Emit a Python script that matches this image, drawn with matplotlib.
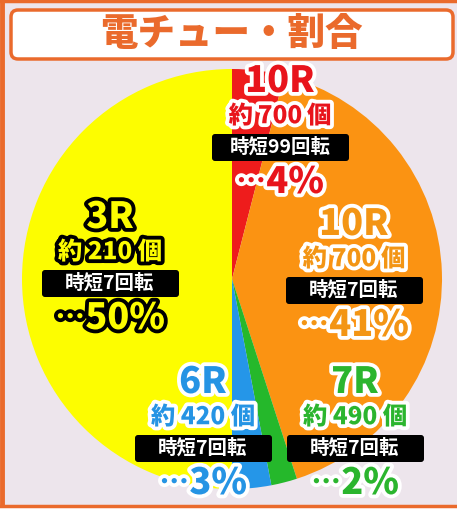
import matplotlib
matplotlib.use("Agg")
import matplotlib.pyplot as plt
import matplotlib.patheffects as pe
from matplotlib.patches import Rectangle, FancyBboxPatch

plt.rcParams['font.family'] = ['Noto Sans CJK JP', 'DejaVu Sans']

# data (clockwise from 12 o'clock)
rounds = ["10R", "10R", "7R", "6R", "3R"]
balls = ["約\u2009700\u2009個", "約\u2009700\u2009個", "約 490 個", "約 420 個", "約 210 個"]
jitan = ["時短99回転", "時短7回転", "時短7回転", "時短7回転", "時短7回転"]
shares = [4, 41, 2, 3, 50]
slice_colors = ["#ee1c1c", "#fb9312", "#25b82b", "#2596e8", "#fdfd00"]
text_colors = ["#e8141c", "#f39514", "#2bb52e", "#2594e4", "#fdfd00"]
stroke_colors = ["white", "white", "white", "white", "black"]
# centre of each label block (pixel coords, y from top)
label_pos = [(280, 81), (354, 224), (355, 382), (203, 382), (110, 217)]

W, H = 457, 512
ORANGE = "#ea6a2c"

fig = plt.figure(figsize=(W / 100, H / 100), dpi=100, facecolor="white")
ax = fig.add_axes([0, 0, 1, 1])


def Y(y):
    return H - y


# background + frame
ax.add_patch(Rectangle((0, Y(506)), W, 506, facecolor="#ede5ec", edgecolor="none", zorder=0))
ax.plot([2, 2], [Y(0), Y(506)], color=ORANGE, lw=3.5, zorder=1, solid_capstyle="butt")
ax.plot([0, W], [Y(1), Y(1)], color=ORANGE, lw=2.5, zorder=1)
ax.plot([0, W], [Y(506), Y(506)], color=ORANGE, lw=2.5, zorder=1)

# title box
ax.add_patch(FancyBboxPatch((11, Y(59)), 442, 49, boxstyle="round,pad=0,rounding_size=7",
                            facecolor="white", edgecolor=ORANGE, lw=2.5, zorder=2))
ax.text(231, Y(34), "電チュー・割合", color=ORANGE, fontsize=27, fontweight="black",
        ha="center", va="center", zorder=3)

# pie
ax.pie(shares, colors=slice_colors, startangle=90, counterclock=False,
       center=(232, Y(279)), radius=210, wedgeprops=dict(linewidth=0),
       frame=True)
ax.set_xlim(0, W)
ax.set_ylim(0, H)
ax.set_aspect("auto")
ax.axis("off")

renderer = fig.canvas.get_renderer()

# labels
for i in range(len(shares)):
    x, y = label_pos[i]
    fx = [pe.withStroke(linewidth=5.5, foreground=stroke_colors[i])]
    ax.text(x, Y(y), rounds[i], color=text_colors[i], fontsize=26, fontweight="black",
            ha="center", va="center", path_effects=fx, zorder=5)
    ax.text(x, Y(y + 35), balls[i], color=text_colors[i], fontsize=17.5, fontweight="black",
            ha="center", va="center", path_effects=fx, zorder=5)
    ax.add_patch(FancyBboxPatch((x - 68, Y(y + 80)), 137, 27,
                                boxstyle="round,pad=0,rounding_size=3",
                                facecolor="black", edgecolor="none", zorder=5))
    ax.text(x, Y(y + 66), jitan[i], color="white", fontsize=14, fontweight="bold",
            ha="center", va="center", zorder=6)
    # percentage: dots + big number, centred as one block
    dots = ax.text(0, Y(y + 101), "…", color=text_colors[i], fontsize=21, fontweight="black",
                   ha="left", va="center", path_effects=fx, zorder=5)
    num = ax.text(0, Y(y + 101), str(shares[i]) + "%", color=text_colors[i], fontsize=26,
                  fontweight="black", ha="left", va="center", path_effects=fx, zorder=5)
    dw = dots.get_window_extent(renderer).width
    nw = num.get_window_extent(renderer).width
    left = x - (dw + nw) / 2
    dots.set_x(left)
    num.set_x(left + dw + 0.5)

fig.savefig("out.png", dpi=100, facecolor="white")
